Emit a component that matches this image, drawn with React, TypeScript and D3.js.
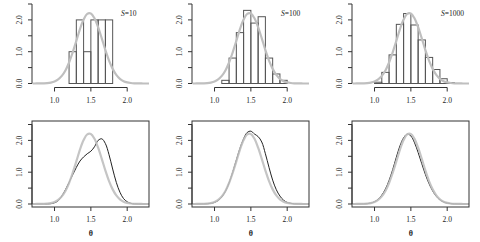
import React from "react";
import * as d3 from "d3";

// ---- data ----
const sampleSizes = ["10", "100", "1000"];
const binEdges = [1.0, 1.1, 1.2, 1.3, 1.4, 1.5, 1.6, 1.7, 1.8, 1.9, 2.0, 2.1];
const histS10 = [0, 0, 1.0, 2.0, 1.0, 2.0, 2.0, 2.0, 0, 0, 0];
const histS100 = [0, 0.1, 0.8, 1.6, 2.3, 1.9, 2.1, 0.8, 0.3, 0.1, 0];
const histS1000 = [0.04, 0.35, 0.9, 1.86, 2.2, 1.84, 1.37, 0.82, 0.44, 0.15, 0.03];

const thetaGrid = [
  0.7, 0.75, 0.8, 0.85, 0.9, 0.95, 1.0, 1.05, 1.1, 1.15, 1.2, 1.25, 1.3, 1.35, 1.4, 1.45, 1.5,
  1.55, 1.6, 1.65, 1.7, 1.75, 1.8, 1.85, 1.9, 1.95, 2.0, 2.05, 2.1, 2.15, 2.2, 2.25, 2.3,
];
const trueDensity = [
  0, 0.001, 0.002, 0.005, 0.012, 0.029, 0.063, 0.128, 0.239, 0.41, 0.66, 0.98, 1.34, 1.71, 2.01,
  2.19, 2.2, 2.05, 1.77, 1.42, 1.05, 0.72, 0.46, 0.27, 0.146, 0.073, 0.034, 0.015, 0.006, 0.002,
  0.001, 0, 0,
];
const kdeS10 = [
  0, 0, 0, 0, 0.002, 0.01, 0.04, 0.1, 0.25, 0.45, 0.68, 0.92, 1.15, 1.35, 1.48, 1.58, 1.66, 1.8,
  2.0, 2.05, 1.9, 1.55, 1.1, 0.68, 0.37, 0.17, 0.07, 0.02, 0.005, 0, 0, 0, 0,
];
const kdeS100 = [
  0, 0, 0.001, 0.003, 0.008, 0.02, 0.05, 0.11, 0.22, 0.4, 0.66, 1.0, 1.38, 1.75, 2.05, 2.25,
  2.29, 2.2, 2.12, 1.95, 1.58, 1.15, 0.75, 0.45, 0.25, 0.12, 0.05, 0.02, 0.007, 0.002, 0, 0, 0,
];
const kdeS1000 = [
  0, 0, 0.001, 0.003, 0.01, 0.03, 0.07, 0.15, 0.28, 0.47, 0.74, 1.08, 1.47, 1.83, 2.08, 2.2, 2.14,
  1.93, 1.62, 1.27, 0.93, 0.64, 0.41, 0.24, 0.13, 0.065, 0.028, 0.011, 0.004, 0.001, 0, 0, 0,
];
const xTicks = [1.0, 1.5, 2.0];
const yTicks = [0, 0.5, 1.0, 1.5, 2.0, 2.5];
const yTickLabels = ["0.0", "", "1.0", "", "2.0", ""];

const hists = [histS10, histS100, histS1000];
const kdes = [kdeS10, kdeS100, kdeS1000];

// ---- layout ----
const W = 480;
const H = 242;
const colW = 160;
const rowOff = [0, 120.5];
const FONT = "'Liberation Serif', 'DejaVu Serif', serif";
const AX = "#333";
const GRAY = "#bfbfbf";

const x = d3.scaleLinear().domain([0.69, 2.3]).range([32, 149]);
const y = d3.scaleLinear().domain([0, 2.5]).range([83.5, 4]);

const line = d3
  .line<number>()
  .x((_, i) => x(thetaGrid[i]))
  .y((d) => y(d))
  .curve(d3.curveCatmullRom);

function YAxis() {
  return (
    <g>
      <line x1={32} x2={32} y1={y(0)} y2={y(2.5)} stroke={AX} strokeWidth={1} />
      {yTicks.map((t, i) => (
        <g key={i}>
          <line x1={28} x2={32} y1={y(t)} y2={y(t)} stroke={AX} strokeWidth={1} />
          {yTickLabels[i] && (
            <text
              transform={`translate(21.5,${y(t)}) rotate(-90)`}
              textAnchor="middle"
              fontSize={7.5}
              fontFamily={FONT}
              fill="#222"
            >
              {yTickLabels[i]}
            </text>
          )}
        </g>
      ))}
    </g>
  );
}

function XAxis({ y0, drawLine }: { y0: number; drawLine: boolean }) {
  return (
    <g>
      {drawLine && (
        <line x1={x(1)} x2={x(2)} y1={y0} y2={y0} stroke={AX} strokeWidth={1} />
      )}
      {xTicks.map((t, i) => (
        <g key={i}>
          <line x1={x(t)} x2={x(t)} y1={y0} y2={y0 + 4} stroke={AX} strokeWidth={1} />
          <text
            x={x(t)}
            y={y0 + 15}
            textAnchor="middle"
            fontSize={7.5}
            fontFamily={FONT}
            fill="#222"
          >
            {t.toFixed(1)}
          </text>
        </g>
      ))}
    </g>
  );
}

export default function App() {
  return (
    <div style={{ position: "fixed", left: 0, top: 0 }}>
      <svg width={W} height={H} style={{ display: "block", background: "#fff" }}>
        <defs>
          <clipPath id="plotclip">
            <rect x={32} y={0.5} width={117} height={86} />
          </clipPath>
        </defs>
        {sampleSizes.map((s, c) => (
          <g key={"top" + c} transform={`translate(${c * colW},${rowOff[0]})`}>
            <g clipPath="url(#plotclip)">
              {hists[c].map((v, i) =>
                v > 0 ? (
                  <rect
                    key={i}
                    x={x(binEdges[i])}
                    y={y(v)}
                    width={x(binEdges[i + 1]) - x(binEdges[i])}
                    height={y(0) - y(v)}
                    fill="none"
                    stroke="#555"
                    strokeWidth={1}
                  />
                ) : null
              )}
              <path d={line(trueDensity) || ""} fill="none" stroke={GRAY} strokeWidth={2.2} />
            </g>
            <YAxis />
            <XAxis y0={87.5} drawLine={true} />
            <text x={121} y={15.5} fontSize={7.5} fontFamily={FONT} fill="#222">
              <tspan fontStyle="italic">S</tspan>
              {"=" + s}
            </text>
          </g>
        ))}
        {sampleSizes.map((s, c) => (
          <g key={"bot" + c} transform={`translate(${c * colW},${rowOff[1]})`}>
            <g clipPath="url(#plotclip)">
              <path d={line(kdes[c]) || ""} fill="none" stroke="#222" strokeWidth={1} />
              <path d={line(trueDensity) || ""} fill="none" stroke={GRAY} strokeWidth={2.2} strokeOpacity={0.9} />
            </g>
            <rect x={32} y={0.5} width={117} height={86} fill="none" stroke={AX} strokeWidth={1} />
            <YAxis />
            <XAxis y0={86.5} drawLine={false} />
            <text
              x={x(1.5)}
              y={115.5}
              textAnchor="middle"
              fontSize={8}
              fontWeight="bold"
              fontFamily={FONT}
              fill="#222"
            >
              θ
            </text>
          </g>
        ))}
      </svg>
    </div>
  );
}
